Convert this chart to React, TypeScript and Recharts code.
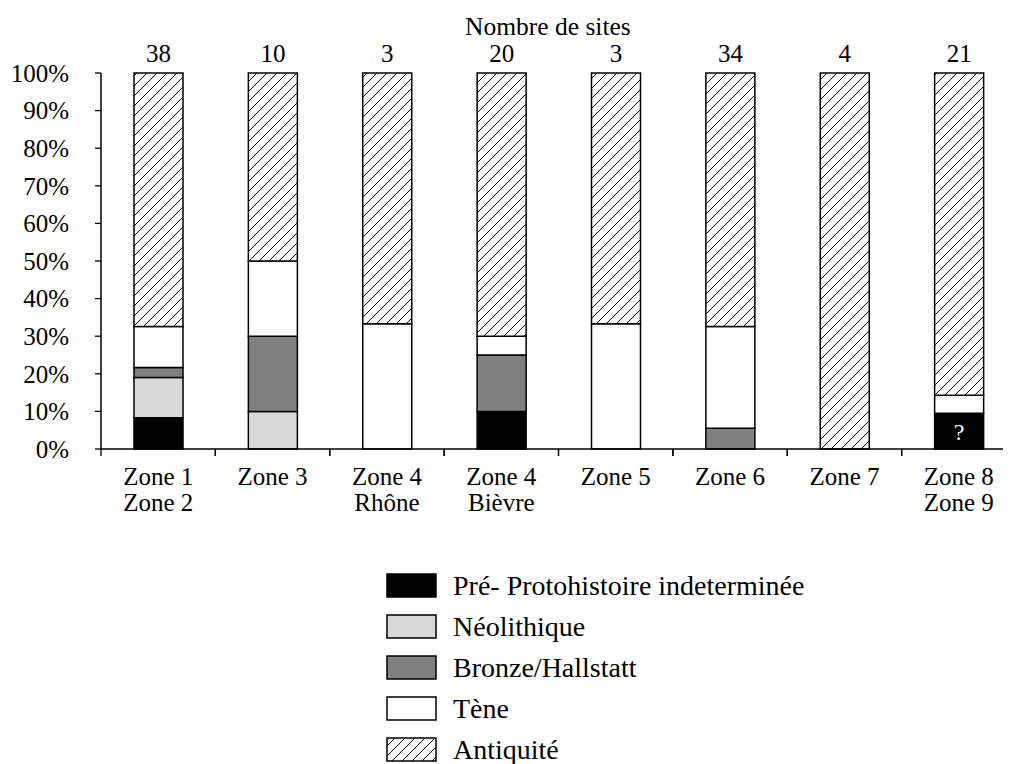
import React from "react";
import { BarChart, Bar, XAxis, YAxis, LabelList } from "recharts";

const categories = ["Zone 1\nZone 2", "Zone 3", "Zone 4\nRhône", "Zone 4\nBièvre", "Zone 5", "Zone 6", "Zone 7", "Zone 8\nZone 9"];
const siteCounts = [38, 10, 3, 20, 3, 34, 4, 21];
const preProto = [8.3, 0, 0, 10, 0, 0, 0, 9.5];
const neolithique = [10.7, 10, 0, 0, 0, 0, 0, 0];
const bronze = [2.7, 20, 0, 15, 0, 5.5, 0, 0];
const tene = [10.9, 20, 33.3, 5, 33.3, 27.1, 0, 4.8];
const antiquite = [67.4, 50, 66.7, 70, 66.7, 67.4, 100, 85.7];
const notes = ["", "", "", "", "", "", "", "?"];
const yTicks = [0, 10, 20, 30, 40, 50, 60, 70, 80, 90, 100];

const series = [
    { key: "pre", name: "Pré- Protohistoire indeterminée", fill: "#000000" },
    { key: "neo", name: "Néolithique", fill: "#d9d9d9" },
    { key: "bronze", name: "Bronze/Hallstatt", fill: "#808080" },
    { key: "tene", name: "Tène", fill: "#ffffff" },
    { key: "antiq", name: "Antiquité", fill: "url(#hatch)" },
];

const data = categories.map((cat, i) => ({
    cat,
    sites: siteCounts[i],
    note: notes[i],
    pre: preProto[i],
    neo: neolithique[i],
    bronze: bronze[i],
    tene: tene[i],
    antiq: antiquite[i],
}));

const FONT = "'Liberation Serif', 'Times New Roman', serif";

function ZoneTick(props: any) {
    const { x, y, payload } = props;
    const half = payload.offset || 0;
    const lines = String(payload.value).split("\n");
    return (
        <g>
            <line x1={x - half} y1={y} x2={x - half} y2={y + 7} stroke="#000" strokeWidth={1.3} />
            <line x1={x + half} y1={y} x2={x + half} y2={y + 7} stroke="#000" strokeWidth={1.3} />
            <text x={x} y={y} textAnchor="middle" fontFamily={FONT} fontSize={25} fill="#000">
                {lines.map((l, i) => (
                    <tspan key={i} x={x} y={y + 36 + i * 26}>{l}</tspan>
                ))}
            </text>
        </g>
    );
}

function Swatch({ fill }: { fill: string }) {
    return (
        <svg width={51} height={25} style={{ display: "block", flexShrink: 0 }}>
            <defs>
                <pattern id="hatchLegend" patternUnits="userSpaceOnUse" width="10" height="10">
                    <rect width="10" height="10" fill="#fff" />
                    <path d="M-2,2 L2,-2 M0,10 L10,0 M8,12 L12,8" stroke="#000" strokeWidth="1" />
                </pattern>
            </defs>
            <rect x={1} y={1} width={49} height={23} fill={fill === "url(#hatch)" ? "url(#hatchLegend)" : fill} stroke="#000" strokeWidth={1.5} />
        </svg>
    );
}

export default function App() {
    return (
        <div style={{ position: "relative", width: 1011, height: 764, marginLeft: -8, marginTop: -8, overflow: "hidden", background: "#fff" }}>
            <div style={{ position: "absolute", left: 465, top: 12, fontFamily: FONT, fontSize: 25.5, whiteSpace: "nowrap" }}>
                Nombre de sites
            </div>
            <BarChart
                width={1030}
                height={764}
                data={data}
                margin={{ top: 73, right: 14, bottom: 235, left: 0 }}
                barSize={49}
            >
                <defs>
                    <pattern id="hatch" patternUnits="userSpaceOnUse" width="10" height="10">
                        <rect width="10" height="10" fill="#fff" />
                        <path d="M-2,2 L2,-2 M0,10 L10,0 M8,12 L12,8" stroke="#000" strokeWidth="1" />
                    </pattern>
                </defs>
                <XAxis
                    dataKey="cat"
                    interval={0}
                    height={80}
                    tickSize={0}
                    tickMargin={0}
                    tickLine={false}
                    axisLine={{ stroke: "#000", strokeWidth: 1.5 }}
                    tick={<ZoneTick />}
                />
                <YAxis
                    width={101}
                    domain={[0, 100]}
                    ticks={yTicks}
                    tickFormatter={(v: number) => `${v}%`}
                    tickSize={6}
                    tickMargin={26}
                    axisLine={{ stroke: "#000", strokeWidth: 1.5 }}
                    tickLine={{ stroke: "#000", strokeWidth: 1.3 }}
                    tick={{ fill: "#000", fontSize: 25, fontFamily: FONT }}
                />
                {series.map((s) => (
                    <Bar
                        key={s.key}
                        dataKey={s.key}
                        name={s.name}
                        stackId="a"
                        fill={s.fill}
                        stroke="#000"
                        strokeWidth={1.5}
                        isAnimationActive={false}
                    >
                        {s.key === "pre" && (
                            <LabelList dataKey="note" position="center" fill="#fff" fontSize={24} fontFamily={FONT} />
                        )}
                        {s.key === "antiq" && (
                            <LabelList dataKey="sites" position="top" offset={11} fill="#000" fontSize={25} fontFamily={FONT} />
                        )}
                    </Bar>
                ))}
            </BarChart>
            <div style={{ position: "absolute", left: 386, top: 565, fontFamily: FONT, fontSize: 28 }}>
                {series.map((s) => (
                    <div key={s.key} style={{ display: "flex", alignItems: "center", height: 41 }}>
                        <Swatch fill={s.fill} />
                        <span style={{ marginLeft: 16, lineHeight: "25px", whiteSpace: "nowrap" }}>{s.name}</span>
                    </div>
                ))}
            </div>
        </div>
    );
}
